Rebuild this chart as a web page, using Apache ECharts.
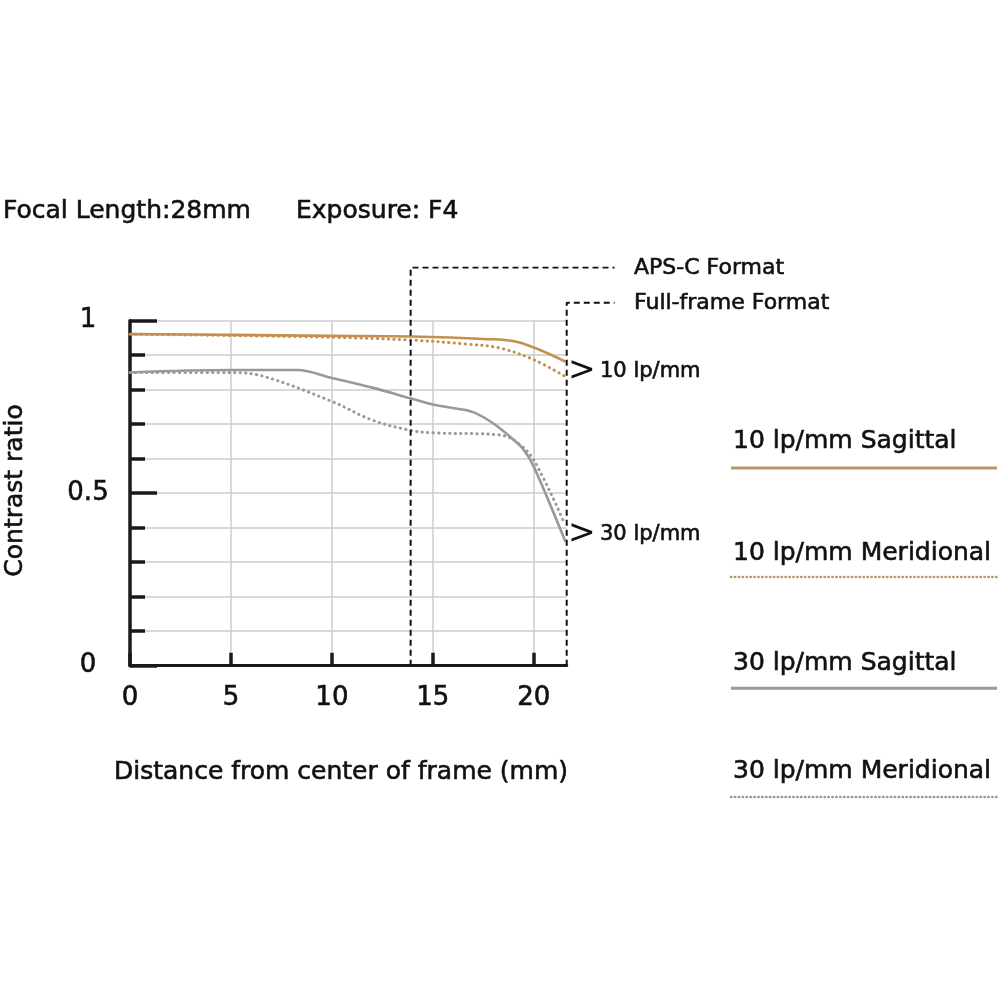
<!DOCTYPE html>
<html>
<head>
<meta charset="utf-8">
<script src="https://cdn.jsdelivr.net/npm/echarts@6/dist/echarts.min.js"></script>
<style>html,body{margin:0;padding:0;background:#fff;}#c{width:1000px;height:1000px;}</style>
</head>
<body>
<div id="c"></div>
<script>
// ---- data ----
const xTickValues = [0, 5, 10, 15, 20];
const yLabelValues = [0, 0.5, 1];

const sag10X = [0, 5, 10, 13.9, 17.5, 19.2, 21.57];
const sag10Y = [0.961, 0.959, 0.956, 0.954, 0.947, 0.938, 0.881];

const mer10X = [0, 5, 10, 13.9, 16.7, 18.3, 20, 21.57];
const mer10Y = [0.961, 0.957, 0.952, 0.944, 0.932, 0.921, 0.887, 0.838];

const sag30X = [0, 5, 8.3, 10, 12, 13.9, 15, 16.2, 17, 18, 19, 19.5, 20, 21.57];
const sag30Y = [0.850, 0.857, 0.857, 0.834, 0.806, 0.775, 0.757, 0.745, 0.735, 0.702, 0.655, 0.626, 0.577, 0.359];

const mer30X = [0, 5, 6.6, 10, 12, 13.9, 15, 18.3, 19.14, 20, 21.5];
const mer30Y = [0.850, 0.850, 0.839, 0.766, 0.712, 0.682, 0.675, 0.669, 0.649, 0.596, 0.415];

const xMax = 21.63;        // full-frame edge (mm), right end of the plot
const apsc = 13.9;         // APS-C format edge (mm)
const guideXMax = 24.0;    // where the guide leaders end (mm)
const guideYMax = 1.154;   // height of APS-C leader (contrast units)
const apscGuideX = [apsc, apsc, guideXMax];
const apscGuideY = [0, guideYMax, guideYMax];
const ffGuideX = [xMax, xMax, guideXMax];
const ffGuideY = [0, 1.052, 1.052];

const legendNames = ['10 lp/mm Sagittal', '10 lp/mm Meridional', '30 lp/mm Sagittal', '30 lp/mm Meridional'];

// ---- helpers ----
const pairs = (xs, ys) => xs.map((x, i) => [x, ys[i]]);
const FONT = '"DejaVu Sans", sans-serif';
const TXT = '#111';
const ORANGE = '#c4904f';
const ORANGE_LEG = '#b8976c';
const GRAY = '#999999';
const SW = 0.6; // faux-medium weight stroke

const GL = 130, GT = 320.7, GW = 436.7, GH = 345;
const pxPerX = GW / xMax, pxPerY = GH;

const chart = echarts.init(document.getElementById('c'), null, {renderer: 'canvas'});

function lineSeries(name, xs, ys, color, dotted, z) {
  return {
    name: name, type: 'line', data: pairs(xs, ys), symbol: 'none',
    smooth: 0.35, z: z, silent: true,
    lineStyle: dotted
      ? {color: color, width: 3, type: [0.3, 5.2], cap: 'round'}
      : {color: color, width: 2.6, type: 'solid'}
  };
}
function guideSeries(xs, ys) {
  return {
    type: 'line', data: pairs(xs, ys), symbol: 'none', silent: true, z: 10,
    xAxisIndex: 1, yAxisIndex: 2,
    lineStyle: {color: '#111', width: 2, type: [6, 4]}
  };
}
function txt(text, x, y, size, extra) {
  return Object.assign({
    type: 'text',
    style: Object.assign({text: text, x: x, y: y, font: size + 'px ' + FONT, fill: TXT, stroke: TXT, lineWidth: SW,
      align: 'left', verticalAlign: 'middle'}, extra || {})
  });
}

const legendY = [[441.7, 468], [553, 577], [663.3, 688.3], [771.7, 797]];
const legendGraphics = [];
legendNames.forEach((n, i) => {
  const isOrange = i < 2, dotted = i % 2 === 1;
  legendGraphics.push(txt(n, 733, legendY[i][0], 25));
  legendGraphics.push({
    type: 'line', shape: {x1: 731, y1: legendY[i][1], x2: 997, y2: legendY[i][1]},
    style: dotted
      ? {stroke: isOrange ? ORANGE_LEG : GRAY, lineWidth: 2.6, lineDash: [0.3, 3.6], lineCap: 'round'}
      : {stroke: isOrange ? ORANGE_LEG : GRAY, lineWidth: 3}
  });
});

const axisLabelStyle = {color: TXT, fontSize: 26, fontFamily: FONT, textBorderColor: TXT, textBorderWidth: SW};

const option = {
  animation: false,
  backgroundColor: '#fff',
  grid: [
    {left: GL, top: GT, width: GW, height: GH, containLabel: false},
    {left: GL, top: GT + GH - guideYMax * pxPerY, width: guideXMax * pxPerX, height: guideYMax * pxPerY, containLabel: false}
  ],
  xAxis: [
    {
      type: 'value', gridIndex: 0, min: 0, max: xMax, interval: 5,
      axisLine: {show: true, lineStyle: {color: '#1a1a1a', width: 3}},
      axisTick: {show: true, inside: true, length: 13, lineStyle: {color: '#1a1a1a', width: 3.5}, customValues: xTickValues},
      axisLabel: Object.assign({show: true, margin: 20, customValues: xTickValues}, axisLabelStyle),
      splitLine: {show: true, lineStyle: {color: '#cdcdcd', width: 1.5}}
    },
    {type: 'value', gridIndex: 1, min: 0, max: guideXMax, show: false}
  ],
  yAxis: [
    {
      type: 'value', gridIndex: 0, min: 0, max: 1, interval: 0.1,
      axisLine: {show: true, lineStyle: {color: '#1a1a1a', width: 3.5}},
      axisTick: {show: true, inside: true, length: 15, lineStyle: {color: '#1a1a1a', width: 3.5}},
      axisLabel: {show: false},
      splitLine: {show: true, lineStyle: {color: '#cdcdcd', width: 1.5}}
    },
    {
      type: 'value', gridIndex: 0, min: 0, max: 1, interval: 0.5, position: 'left',
      axisLine: {show: false},
      axisTick: {show: true, inside: true, length: 27, lineStyle: {color: '#1a1a1a', width: 3.5}},
      axisLabel: Object.assign({show: true, align: 'center', margin: 42,
        formatter: v => yLabelValues.indexOf(v) >= 0 ? String(v) : ''}, axisLabelStyle),
      splitLine: {show: false}
    },
    {type: 'value', gridIndex: 1, min: 0, max: guideYMax, show: false}
  ],
  series: [
    lineSeries(legendNames[2], sag30X, sag30Y, GRAY, false, 3),
    lineSeries(legendNames[3], mer30X, mer30Y, GRAY, true, 4),
    lineSeries(legendNames[1], mer10X, mer10Y, ORANGE, true, 5),
    lineSeries(legendNames[0], sag10X, sag10Y, ORANGE, false, 6),
    guideSeries(apscGuideX, apscGuideY),
    guideSeries(ffGuideX, ffGuideY)
  ],
  graphic: [
    txt('Focal Length:28mm', 3, 211, 25),
    txt('Exposure: F4', 296, 211, 25),
    txt('APS-C Format', 634, 268, 22),
    txt('Full-frame Format', 634, 303, 22),
    txt('>', 568, 371, 33, {font: '33px ' + FONT, lineWidth: 0}),
    txt('10 lp/mm', 600, 372, 21),
    txt('>', 568, 534, 33, {font: '33px ' + FONT, lineWidth: 0}),
    txt('30 lp/mm', 600, 535, 21),
    {type: 'text', rotation: Math.PI / 2, x: 15, y: 490.5,
      style: {text: 'Contrast ratio', x: 0, y: 0, font: '25px ' + FONT, fill: TXT, stroke: TXT, lineWidth: SW, align: 'center', verticalAlign: 'middle'}},
    txt('Distance from center of frame (mm)', 341, 772, 25, {align: 'center'})
  ].concat(legendGraphics)
};
chart.setOption(option);
</script>
</body>
</html>
